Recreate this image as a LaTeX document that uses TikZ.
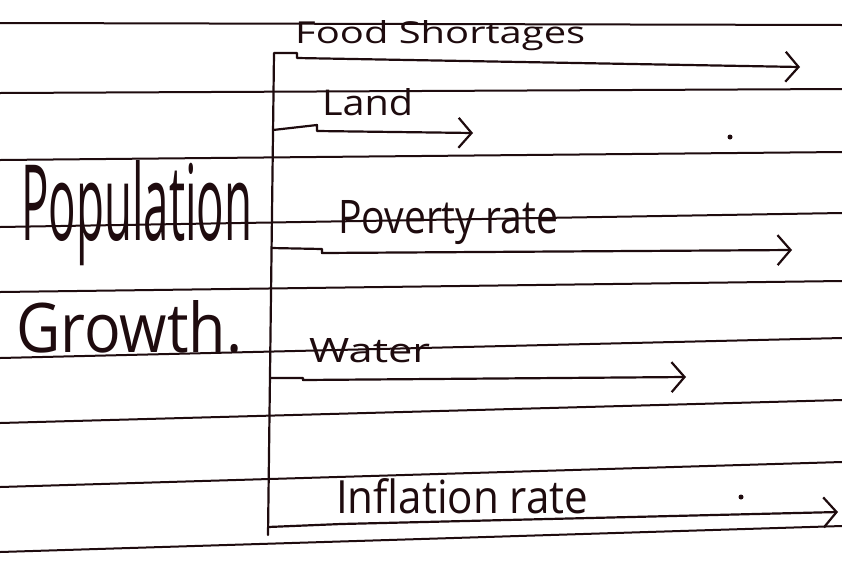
\documentclass[tikz,border=0pt]{standalone}
\usepackage{fontspec}
\setmainfont{Open Sans}
\usetikzlibrary{arrows.meta}
\definecolor{ink}{HTML}{1E0B0E}
\begin{document}
\begin{tikzpicture}[x=1pt,y=-1pt,
  rule/.style={ink, line width=2pt},
  stem/.style={ink, line width=2.2pt, line cap=round},
  branch/.style={ink, line width=2.2pt, line join=round, -{Straight Barb[length=13pt,width=30pt]}},
  lab/.style={ink, anchor=base west, inner sep=0pt}]
\useasboundingbox (0,0) rectangle (842,563);
\fill[white] (0,0) rectangle (842,563);
% ruled lines
\foreach \a/\b in {23/25, 93/89, 160/152, 227/213, 292/281, 358/338, 423/400, 487/462, 552/526}
  \draw[rule] (0,\a) -- (842,\b);
% left title
\node[lab] (pop) at (21,240) {\resizebox{231pt}{80pt}{Population}};
\node[lab] (gro) at (16,352) {\resizebox{226pt}{52pt}{Growth.}};
% stem
\coordinate (top) at (274,53);
\coordinate (bot) at (268,535);
\draw[stem] (top) -- (bot);
\coordinate (j2) at (273,130);
\coordinate (j3) at (271,248);
\coordinate (j4) at (270,378);
\coordinate (j5) at (268,527);
% arrow ends
\coordinate (e1) at (800,67);
\coordinate (e2) at (473,133);
\coordinate (e3) at (792,250);
\coordinate (e4) at (686,377);
\coordinate (e5) at (838,512);
% branches
\draw[branch] (top) -- (297,53) -- (297,58) -- (e1);
\draw[branch] (j2) -- (317,125) -- (317,131) -- (e2);
\draw[branch] (j3) -- (322,249) -- (322,253) -- (e3);
\draw[branch] (j4) -- (303,378) -- (303,380) -- (e4);
\draw[branch] (j5) -- (341,524) -- (e5);
% labels
\node[lab] (food) at (295,43) {\resizebox{290pt}{23pt}{Food Shortages}};
\node[lab] (land) at (322,115) {\resizebox{91pt}{27pt}{Land}};
\node[lab] (pov) at (338,233) {\resizebox{220pt}{33pt}{Poverty rate}};
\node[lab] (wat) at (309,362) {\resizebox{121pt}{24pt}{Water}};
\node[lab] (inf) at (336,513) {\resizebox{252pt}{35pt}{Inflation rate}};
% stray dots
\fill[ink] (730,137) circle (2.5pt);
\fill[ink] (741,497) circle (2.5pt);
\end{tikzpicture}
\end{document}
